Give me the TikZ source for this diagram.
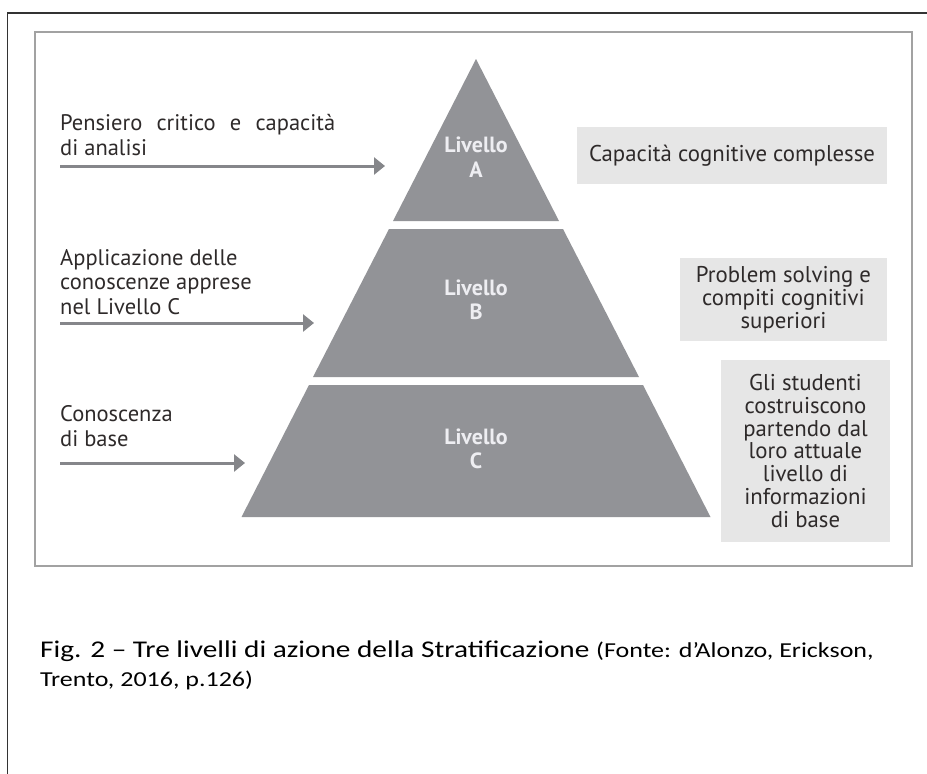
\documentclass[tikz,border=0pt]{standalone}
\usepackage{fontspec}
\usetikzlibrary{arrows.meta}
\newfontfamily\diagfont[FakeStretch=1.0]{PT Sans}
\newfontfamily\capfont[FakeStretch=1.22]{Carlito}
\definecolor{pyr}{HTML}{929397}
\definecolor{arrc}{HTML}{85868A}
\definecolor{boxc}{HTML}{E6E6E6}
\definecolor{txt}{HTML}{2E2A2A}
\definecolor{lvl}{HTML}{EEEEF2}
\definecolor{frm}{HTML}{A2A2A2}
\tikzset{
  lbl/.style={anchor=base west,inner sep=0pt,align=left,text=txt,font=\diagfont\fontsize{22.5}{24.5}\selectfont},
  side/.style={fill=boxc,inner sep=0pt,align=center,text=txt,font=\diagfont\fontsize{22.8}{22.8}\selectfont},
  lv/.style={inner sep=0pt,align=center,text=lvl,font=\diagfont\bfseries\fontsize{22}{24.5}\selectfont},
  arr/.style={draw=arrc,line width=3pt,-{Triangle[length=11pt,width=17pt]}},
  tier/.style={fill=pyr},
}
\begin{document}
\begin{tikzpicture}[x=1pt,y=-1pt]
\useasboundingbox (0,0) rectangle (927,774);
\fill[white] (0,0) rectangle (927,774);
% outer frame
\draw[line width=1.6pt,color=black!80] (7.5,774) -- (7.5,13) -- (927,13);
% inner frame
\draw[line width=2pt,color=frm] (35,32) rectangle (912,566);
% pyramid tiers
\fill[tier] (476,59) -- (559,221) -- (393,221) -- cycle;
\fill[tier] (389,229) -- (563,229) -- (639,377) -- (313,377) -- cycle;
\fill[tier] (309,385) -- (643,385) -- (710.5,517) -- (241.5,517) -- cycle;
% tier labels
\node[lv] (la) at (476,157) {Livello\\A};
\node[lv] (lb) at (476,300) {Livello\\B};
\node[lv] (lc) at (476,449) {Livello\\C};
% left labels (base = last line)
\node[lbl] (t1) at (60,155) {\hbox to 275pt{Pensiero\hfil\ critico\hfil\ e\hfil\ capacità}\\di analisi};
\node[lbl] (t2) at (60,314) {Applicazione delle\\conoscenze apprese\\nel Livello C};
\node[lbl] (t3) at (60,446) {Conoscenza\\di base};
% arrows
\coordinate (s1) at (60,166); \coordinate (e1) at (385,166);
\coordinate (s2) at (60,323); \coordinate (e2) at (314,323);
\coordinate (s3) at (60,463); \coordinate (e3) at (245,463);
\draw[arr] (s1) -- (e1);
\draw[arr] (s2) -- (e2);
\draw[arr] (s3) -- (e3);
% right boxes
\node[side,minimum width=310pt,minimum height=57pt] (ra) at (732,155.5) {Capacità cognitive complesse};
\node[side,minimum width=207pt,minimum height=83pt] (rb) at (783.5,299.5) {Problem solving e\\compiti cognitivi\\superiori};
\node[side,minimum width=169pt,minimum height=182pt] (rc) at (805.5,451) {Gli studenti\\costruiscono\\partendo dal\\loro attuale\\livello di\\informazioni\\di base};
% caption (base = last line)
\node[anchor=base west,inner sep=0pt,align=left,font=\capfont\fontsize{21.3}{29}\selectfont] (cap) at (40,686)
  {{\fontsize{24}{29}\selectfont Fig. 2 – Tre livelli di azione della Stratificazione }(Fonte: d’Alonzo, Erickson,\\
   Trento, 2016, p.126)};
\end{tikzpicture}
\end{document}
